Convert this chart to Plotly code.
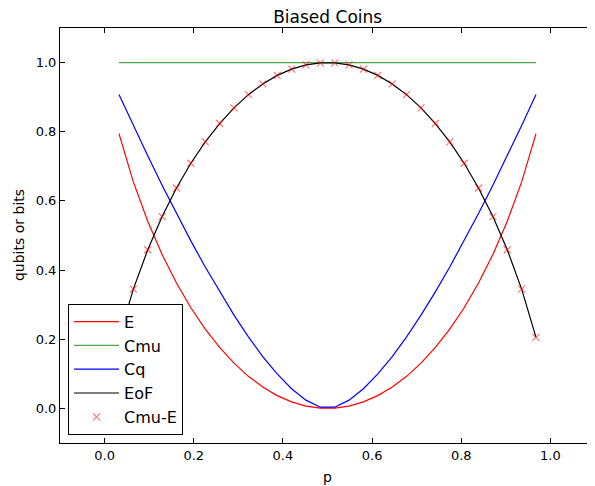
import plotly.graph_objects as go

p = [0.0323, 0.0645, 0.0968, 0.1290, 0.1613, 0.1935, 0.2258, 0.2581, 0.2903, 0.3226,
     0.3548, 0.3871, 0.4194, 0.4516, 0.4839, 0.5161, 0.5484, 0.5806, 0.6129, 0.6452,
     0.6774, 0.7097, 0.7419, 0.7742, 0.8065, 0.8387, 0.8710, 0.9032, 0.9355, 0.9677]

E = [0.7944, 0.6549, 0.5413, 0.4453, 0.3626, 0.2911, 0.2294, 0.1762, 0.1309, 0.0928,
     0.0617, 0.0371, 0.0189, 0.0068, 0.0007, 0.0007, 0.0068, 0.0189, 0.0371, 0.0617,
     0.0928, 0.1309, 0.1762, 0.2294, 0.2911, 0.3626, 0.4453, 0.5413, 0.6549, 0.7944]

Cmu = [1.0] * 30

Cq = [0.9080, 0.8181, 0.7306, 0.6456, 0.5634, 0.4844, 0.4088, 0.3370, 0.2696, 0.2069,
      0.1500, 0.0996, 0.0569, 0.0239, 0.0035, 0.0035, 0.0239, 0.0569, 0.0996, 0.1500,
      0.2069, 0.2696, 0.3370, 0.4088, 0.4844, 0.5634, 0.6456, 0.7306, 0.8181, 0.9080]

EoF = [0.2056, 0.3451, 0.4587, 0.5547, 0.6374, 0.7089, 0.7706, 0.8238, 0.8691, 0.9072,
       0.9383, 0.9629, 0.9811, 0.9932, 0.9993, 0.9993, 0.9932, 0.9811, 0.9629, 0.9383,
       0.9072, 0.8691, 0.8238, 0.7706, 0.7089, 0.6374, 0.5547, 0.4587, 0.3451, 0.2056]

CmuE = [0.2056, 0.3451, 0.4587, 0.5547, 0.6374, 0.7089, 0.7706, 0.8238, 0.8691, 0.9072,
        0.9383, 0.9629, 0.9811, 0.9932, 0.9993, 0.9993, 0.9932, 0.9811, 0.9629, 0.9383,
        0.9072, 0.8691, 0.8238, 0.7706, 0.7089, 0.6374, 0.5547, 0.4587, 0.3451, 0.2056]

tick_vals = [0.0, 0.2, 0.4, 0.6, 0.8, 1.0]
tick_text = ["0.0", "0.2", "0.4", "0.6", "0.8", "1.0"]

FONT = "DejaVu Sans"

fig = go.Figure()
fig.add_trace(go.Scatter(x=p, y=E, mode="lines", name="E",
                         line=dict(color="#ff0000", width=1.2)))
fig.add_trace(go.Scatter(x=p, y=Cmu, mode="lines", name="Cmu",
                         line=dict(color="#008000", width=1.4), opacity=0.7))
fig.add_trace(go.Scatter(x=p, y=Cq, mode="lines", name="Cq",
                         line=dict(color="#0000ff", width=1.2)))
fig.add_trace(go.Scatter(x=p, y=EoF, mode="lines", name="EoF",
                         line=dict(color="#000000", width=1.2)))
fig.add_trace(go.Scatter(x=p, y=CmuE, mode="markers", name="Cmu-E",
                         marker=dict(symbol="x-thin", size=7, color="rgba(0,0,0,0)",
                                     line=dict(color="rgba(255,0,0,0.55)", width=1.2))))

axis_common = dict(showgrid=False, zeroline=False, showline=True, linecolor="black",
                   linewidth=1, mirror="ticks", ticks="inside", ticklen=5,
                   tickcolor="black", tickwidth=1, automargin=False,
                   tickfont=dict(family=FONT, size=13, color="black"))

fig.update_layout(
    width=587, height=478,
    margin=dict(l=52, r=0, t=20, b=43, autoexpand=False),
    paper_bgcolor="white", plot_bgcolor="white",
    title=dict(text="Biased Coins", x=0.5446, xref="container", xanchor="center",
               y=0.981, yref="container", yanchor="middle", automargin=False,
               font=dict(family=FONT, size=17, color="black")),
    font=dict(family=FONT, color="black"),
    xaxis=dict(range=[-0.1, 1.1], tickvals=tick_vals, ticktext=tick_text, **axis_common),
    yaxis=dict(range=[-0.1, 1.1], tickvals=tick_vals, ticktext=tick_text, **axis_common),
    legend=dict(x=0.015, y=0.02, xanchor="left", yanchor="bottom",
                bgcolor="white", bordercolor="black", borderwidth=1,
                font=dict(family=FONT, size=16, color="black"),
                itemwidth=45, tracegroupgap=0),
    showlegend=True,
    annotations=[
        dict(text="p", x=0.5, y=-0.0814, xref="paper", yref="paper",
             xanchor="center", yanchor="middle", showarrow=False,
             font=dict(family=FONT, size=14, color="black")),
        dict(text="qubits or bits", x=-0.0775, y=0.5, xref="paper", yref="paper",
             xanchor="center", yanchor="middle", showarrow=False, textangle=-90,
             font=dict(family=FONT, size=14, color="black")),
    ],
)

fig.write_html("out.html")
